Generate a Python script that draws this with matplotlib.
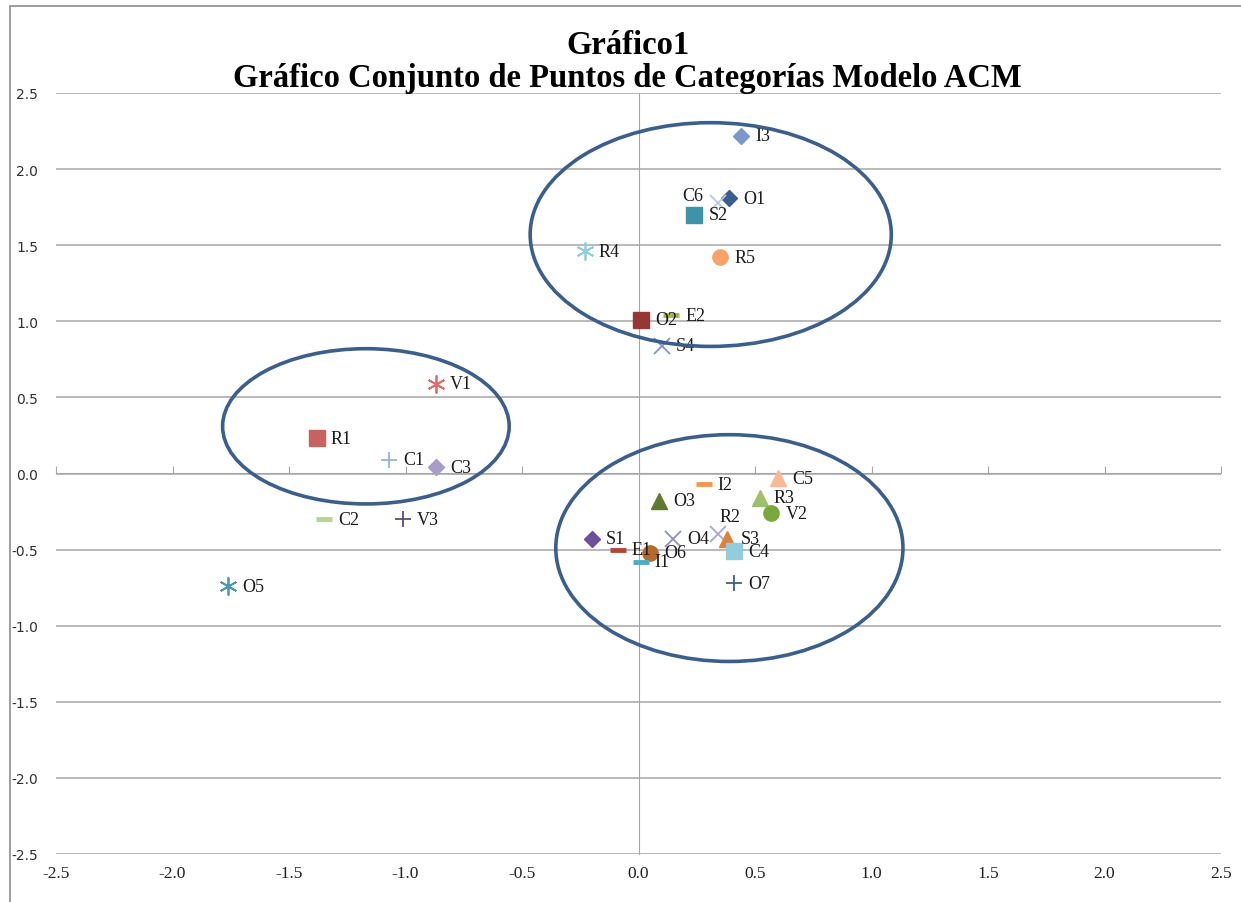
import numpy as np
from matplotlib import pyplot as plt
from matplotlib.patches import Ellipse, Rectangle

# category points (dimension 1, dimension 2)
labels = ["I3", "O1", "C6", "S2", "R4", "R5", "O2", "E2", "S4",
          "V1", "R1", "C1", "C3", "C2", "V3", "O5",
          "I2", "C5", "O3", "R3", "V2", "R2", "S3", "C4", "O4",
          "S1", "E1", "O6", "I1", "O7"]
dim1 = [0.44, 0.39, 0.34, 0.24, -0.23, 0.35, 0.01, 0.14, 0.10,
        -0.87, -1.38, -1.07, -0.87, -1.35, -1.01, -1.76,
        0.28, 0.60, 0.09, 0.52, 0.57, 0.34, 0.38, 0.41, 0.15,
        -0.20, -0.09, 0.05, 0.01, 0.41]
dim2 = [2.22, 1.81, 1.78, 1.70, 1.46, 1.42, 1.01, 1.04, 0.84,
        0.59, 0.23, 0.09, 0.04, -0.30, -0.30, -0.74,
        -0.07, -0.03, -0.18, -0.16, -0.26, -0.40, -0.43, -0.51, -0.43,
        -0.43, -0.50, -0.52, -0.58, -0.72]

# styles (Excel-like marker cycle)
markers = ["D", "D", "x", "s", "ast", "o", "s", "_", "x",
           "ast", "s", "+", "D", "_", "+", "ast",
           "_", "^", "^", "^", "o", "x", "^", "s", "x",
           "D", "_", "o", "_", "+"]
colors = ["#7b97cb", "#3a5f8e", "#b9c7e2", "#3f93a8", "#93cddd", "#f9a36a", "#953735", "#a3b545", "#7f94c9",
          "#e06b6b", "#c8625f", "#93b3d6", "#a89cc8", "#b7d495", "#604a7b", "#4a9aaf",
          "#f79646", "#fab994", "#5f7a30", "#9dc168", "#7ba83c", "#a2a8d3", "#e0813a", "#93cddd", "#8c90c4",
          "#6e4f9a", "#b04a2f", "#b5692c", "#4bacc6", "#3a5f8e"]

# hand-drawn group ellipses: center x, center y, width, height
ell_x = [0.31, -1.17, 0.39]
ell_y = [1.57, 0.31, -0.49]
ell_w = [1.55, 1.23, 1.49]
ell_h = [1.47, 1.02, 1.49]

ticks = [-2.5, -2.0, -1.5, -1.0, -0.5, 0.0, 0.5, 1.0, 1.5, 2.0, 2.5]
tick_text = ["%.1f" % t for t in ticks]

label_offset = {"C6": (-14, 7, "right"), "R2": (12, 18, "center")}

fig = plt.figure(figsize=(12.41, 9.03), dpi=100)
fig.patches.append(Rectangle((10 / 1241, -0.1), 1.2, 1.1 - 7 / 903, transform=fig.transFigure,
                             fill=False, edgecolor="#8c8c8c", linewidth=1.2))
ax = fig.add_axes([56 / 1241, 1 - 855 / 903, 1165 / 1241, 761 / 903])
ax.set_xlim(-2.5, 2.5)
ax.set_ylim(-2.5, 2.5)
for s in ax.spines.values():
    s.set_visible(False)

ax.set_yticks(ticks)
ax.set_yticklabels(tick_text, fontsize=10, family="DejaVu Sans", color="#303030")
ax.set_xticks(ticks)
ax.set_xticklabels(tick_text, fontsize=12.5, family="Liberation Serif", color="#202020")
ax.tick_params(axis="both", length=0)
ax.tick_params(axis="y", pad=13)
ax.tick_params(axis="x", pad=8)
ax.grid(axis="y", color="#a6a6a6", linewidth=1.1)
ax.set_axisbelow(True)

# axis lines crossing at zero
secx = ax.secondary_xaxis(0.5)
secx.set_xticks(ticks)
secx.set_xticklabels([])
secx.tick_params(direction="out", length=5, color="#a6a6a6")
for s in secx.spines.values():
    s.set_color("#a6a6a6")
secy = ax.secondary_yaxis(0.5)
secy.set_yticks(ticks)
secy.set_yticklabels([])
secy.tick_params(length=0)
for s in secy.spines.values():
    s.set_color("#a6a6a6")

for i in range(len(labels)):
    m = markers[i]
    kw = dict(color=colors[i], linestyle="none", zorder=3)
    if m == "ast":
        kw.update(marker=(6, 2, 0), markersize=13, markeredgewidth=1.3)
    elif m == "_":
        kw.update(marker="_", markersize=11, markeredgewidth=3.5)
    elif m in ("x", "+"):
        kw.update(marker=m, markersize=12, markeredgewidth=1.3)
    elif m == "D":
        kw.update(marker="D", markersize=8)
    elif m == "^":
        kw.update(marker="^", markersize=11)
    else:
        kw.update(marker=m, markersize=11)
    ax.plot(dim1[i], dim2[i], **kw)
    dx, dy, ha = label_offset.get(labels[i], (14, 0, "left"))
    ax.annotate(labels[i], (dim1[i], dim2[i]), xytext=(dx, dy), textcoords="offset pixels",
                ha=ha, va="center", fontsize=13, family="Liberation Serif", color="#1a1a1a", zorder=4)

for cx, cy, w, h in zip(ell_x, ell_y, ell_w, ell_h):
    ax.add_patch(Ellipse((cx, cy), w, h, fill=False, edgecolor="#3b5f8a", linewidth=2.6, zorder=5))

fig.text(627.5 / 1241, 1 - 46 / 903, "Gráfico1", ha="center", va="center",
         fontsize=23.5, fontweight="bold", family="Liberation Serif")
fig.text(627.5 / 1241, 1 - 79 / 903, "Gráfico Conjunto de Puntos de Categorías Modelo ACM",
         ha="center", va="center", fontsize=23.5, fontweight="bold", family="Liberation Serif")

plt.savefig("out.png", dpi=100)
plt.close()
